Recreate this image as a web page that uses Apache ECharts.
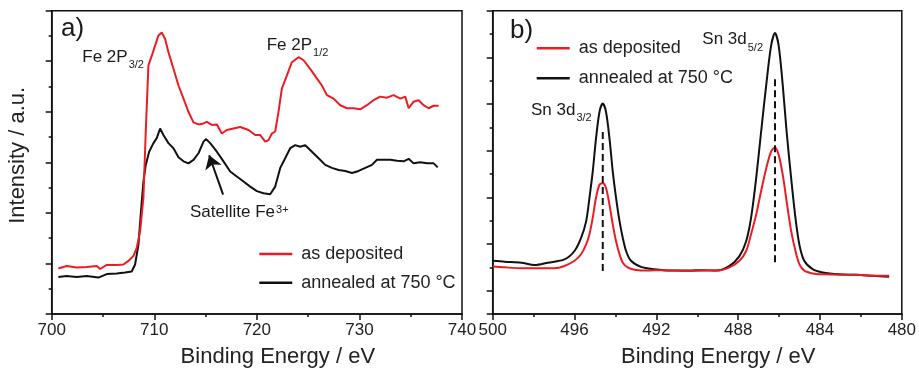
<!DOCTYPE html>
<html><head><meta charset="utf-8">
<script src="https://cdn.jsdelivr.net/npm/echarts@6/dist/echarts.min.js"></script>
<style>html,body{margin:0;padding:0;background:#fff}#c{width:919px;height:373px}</style>
</head><body><div id="c"></div>
<script>
// ---- Panel a) Fe 2p ----
const feEnergyAsDep = [700.65,701.46,702.44,703.41,704.39,704.72,705.37,706.34,706.99,707.48,
  707.97,708.29,708.62,708.94,709.17,709.43,709.76,710.08,710.41,710.73,
  711.06,711.38,711.87,712.36,712.85,713.33,713.82,714.31,714.80,715.12,
  715.61,716.10,716.59,717.07,717.72,718.37,719.19,719.84,720.33,720.81,
  721.14,721.46,721.79,722.11,722.44,722.93,723.41,724.07,724.55,725.20,
  725.85,726.34,726.83,727.48,728.13,728.78,729.43,730.08,730.73,731.38,
  732.03,732.68,733.33,733.98,734.47,734.80,735.28,735.77,736.26,736.75,
  737.24,737.72];
const feAsDep = [0.90,0.95,0.92,0.93,0.95,0.89,0.97,0.97,0.98,1.05,
  1.15,1.31,1.64,2.30,3.61,4.92,5.11,5.31,5.51,5.57,
  5.44,5.18,4.85,4.52,4.26,4.00,3.79,3.75,3.77,3.80,
  3.74,3.75,3.57,3.64,3.67,3.70,3.64,3.54,3.54,3.41,
  3.44,3.57,3.61,4.00,4.46,4.72,4.98,5.08,5.02,4.85,
  4.66,4.52,4.33,4.26,4.13,4.07,4.07,4.05,4.13,4.23,
  4.30,4.28,4.33,4.26,4.30,4.07,4.20,4.23,4.13,4.07,
  4.12,4.12];
const feEnergyAnn = [700.65,701.46,702.44,703.41,704.55,705.37,706.34,707.15,707.80,708.13,
  708.46,708.68,708.94,709.17,709.50,709.92,710.24,710.57,710.89,711.38,
  711.87,712.36,712.85,713.33,713.82,714.31,714.80,715.06,715.45,716.10,
  716.75,717.40,718.05,718.70,719.35,720.00,720.65,721.30,721.79,722.28,
  722.76,723.25,723.74,724.23,724.72,725.37,726.02,726.67,727.32,727.97,
  728.62,729.27,729.92,730.57,731.22,731.71,732.36,733.01,733.66,734.31,
  734.80,735.28,735.93,736.59,737.24,737.63];
const feAnn = [0.73,0.75,0.73,0.75,0.72,0.79,0.80,0.82,0.84,0.98,
  1.38,1.97,2.62,2.95,3.21,3.38,3.48,3.67,3.54,3.38,
  3.28,3.10,3.02,2.98,3.05,3.18,3.41,3.46,3.38,3.21,
  3.02,2.82,2.72,2.62,2.52,2.43,2.39,2.37,2.52,2.89,
  3.08,3.28,3.34,3.31,3.34,3.21,3.08,2.95,2.89,2.85,
  2.83,2.79,2.83,2.89,2.95,3.05,3.05,3.05,3.03,3.02,
  3.07,2.98,3.00,2.98,2.98,2.90];
const satelliteArrowFrom = [716.71, 2.36];
const satelliteArrowTo = [715.35, 3.14];

// ---- Panel b) Sn 3d ----
const snEnergyAsDep = [500.0,499.41,498.60,497.79,496.98,496.49,496.00,495.68,495.43,495.27,
  495.11,494.95,494.78,494.62,494.46,494.29,494.13,493.97,493.80,493.64,
  493.40,493.07,492.42,491.78,491.12,490.40,489.73,489.07,488.42,487.94,
  487.61,487.37,487.12,486.88,486.63,486.39,486.20,486.02,485.82,485.63,
  485.41,485.20,485.01,484.77,484.36,483.87,483.06,482.24,481.43,480.62];
const snAsDep = [0.52,0.50,0.48,0.48,0.48,0.53,0.64,0.78,0.99,1.21,
  1.56,1.99,2.27,2.30,2.20,1.84,1.42,1.06,0.78,0.60,
  0.50,0.45,0.43,0.44,0.43,0.42,0.43,0.43,0.50,0.64,
  0.85,1.21,1.63,2.13,2.62,2.98,3.07,2.91,2.48,1.91,
  1.28,0.85,0.57,0.43,0.37,0.35,0.34,0.34,0.32,0.32];
const snEnergyAnn = [500.0,499.41,498.60,497.95,497.30,496.49,496.00,495.68,495.43,495.27,
  495.11,494.95,494.78,494.62,494.46,494.29,494.13,493.97,493.80,493.64,
  493.48,493.24,492.75,492.10,491.29,490.40,489.73,489.07,488.42,487.94,
  487.61,487.37,487.12,486.88,486.63,486.39,486.20,486.02,485.82,485.63,
  485.41,485.20,485.01,484.77,484.36,483.87,483.06,482.24,481.43,480.62];
const snAnn = [0.64,0.62,0.60,0.55,0.60,0.67,0.85,1.13,1.49,1.99,
  2.55,3.26,3.83,4.01,3.83,3.26,2.55,1.99,1.49,1.13,
  0.85,0.64,0.51,0.46,0.43,0.43,0.44,0.43,0.53,0.74,
  1.06,1.56,2.41,3.40,4.40,5.25,5.52,5.25,4.40,3.40,
  2.41,1.56,0.99,0.64,0.46,0.39,0.35,0.34,0.32,0.30];
const snPeakPositions = [494.62, 486.20];
const snDashTop = [3.40, 4.53];
const snDashBottom = [0.35, 0.53];

const seriesNames = ['as deposited', 'annealed at 750 °C'];
const xAxisTitle = 'Binding Energy / eV';
const yAxisTitle = 'Intensity / a.u.';

const FONT = "'Liberation Sans', Arial, Helvetica, sans-serif";
const RED = '#ec1c24', BLACK = '#111111', TXT = '#1a1a1a';
const pairs = (xs, ys) => xs.map((x, i) => [x, ys[i]]);

const axisCommon = {
  axisLine: { show: true, onZero: false, lineStyle: { color: BLACK, width: 1.5 } },
  axisTick: { show: true, inside: false, length: 6, lineStyle: { color: BLACK, width: 1.5 } },
  minorTick: { show: true, splitNumber: 2, length: 3, lineStyle: { color: BLACK, width: 1.5 } },
  splitLine: { show: false },
  minorSplitLine: { show: false }
};
const xLabel = { show: true, color: '#222', fontFamily: FONT, fontSize: 17, margin: 8 };
const xName = { color: '#222', fontFamily: FONT, fontSize: 22, padding: [0, 0, 0, 42] };

const chart = echarts.init(document.getElementById('c'), null, { renderer: 'canvas' });

const lineBase = { type: 'line', showSymbol: false, symbol: 'none', animation: false, silent: true };

const option = {
  animation: false,
  backgroundColor: '#fff',
  grid: [
    { left: 51.7, top: 10.7, width: 410.3, height: 306.6, show: true, borderColor: BLACK, borderWidth: 1.5 },
    { left: 492.7, top: 10.7, width: 410, height: 306.6, show: true, borderColor: BLACK, borderWidth: 1.5 }
  ],
  xAxis: [
    Object.assign({}, axisCommon, { gridIndex: 0, type: 'value', min: 700, max: 740, interval: 10,
      axisLabel: xLabel, name: xAxisTitle, nameLocation: 'middle', nameGap: 32, nameTextStyle: xName }),
    Object.assign({}, axisCommon, { gridIndex: 1, type: 'value', min: 480, max: 500, interval: 4, inverse: true,
      axisLabel: xLabel, name: xAxisTitle, nameLocation: 'middle', nameGap: 32, nameTextStyle: xName })
  ],
  yAxis: [
    Object.assign({}, axisCommon, { gridIndex: 0, type: 'value', min: 0, max: 6, interval: 1,
      axisLabel: { show: false }, name: yAxisTitle, nameLocation: 'middle', nameGap: 23,
      nameTextStyle: { color: '#222', fontFamily: FONT, fontSize: 22, padding: [0, 0, 0, 14] } }),
    Object.assign({}, axisCommon, { gridIndex: 1, type: 'value', min: -0.5, max: 6, splitNumber: 6,
      axisLabel: { show: false } })
  ],
  legend: [
    { data: seriesNames, orient: 'vertical', left: 259.3, top: 245, padding: 0, itemGap: 10.7,
      icon: 'rect', itemWidth: 33, itemHeight: 2.5, selectedMode: false,
      textStyle: { fontFamily: FONT, fontSize: 18, color: '#222', padding: [0, 0, 0, 4] } },
    { data: seriesNames, orient: 'vertical', left: 536.7, top: 39.3, padding: 0, itemGap: 12,
      icon: 'rect', itemWidth: 33, itemHeight: 2.5, selectedMode: false,
      textStyle: { fontFamily: FONT, fontSize: 18, color: '#222', padding: [0, 0, 0, 4] } }
  ],
  series: [
    Object.assign({}, lineBase, { name: seriesNames[1], xAxisIndex: 0, yAxisIndex: 0, color: BLACK,
      lineStyle: { color: BLACK, width: 2 }, data: pairs(feEnergyAnn, feAnn),
      markLine: { silent: true, animation: false, symbol: ['none', 'arrow'], symbolSize: 13,
        label: { show: false }, lineStyle: { color: BLACK, width: 2, type: 'solid' },
        itemStyle: { color: BLACK },
        data: [[{ coord: satelliteArrowFrom }, { coord: satelliteArrowTo }]] } }),
    Object.assign({}, lineBase, { name: seriesNames[0], xAxisIndex: 0, yAxisIndex: 0, color: RED,
      lineStyle: { color: RED, width: 2 }, data: pairs(feEnergyAsDep, feAsDep) }),
    Object.assign({}, lineBase, { name: seriesNames[1], xAxisIndex: 1, yAxisIndex: 1, color: BLACK, smooth: 0.3,
      lineStyle: { color: BLACK, width: 2 }, data: pairs(snEnergyAnn, snAnn) }),
    Object.assign({}, lineBase, { name: seriesNames[0], xAxisIndex: 1, yAxisIndex: 1, color: RED, smooth: 0.3,
      lineStyle: { color: RED, width: 2 }, data: pairs(snEnergyAsDep, snAsDep) })
  ].concat(snPeakPositions.map((p, i) => Object.assign({}, lineBase, {
      name: 'peak' + i, xAxisIndex: 1, yAxisIndex: 1, color: BLACK,
      lineStyle: { color: BLACK, width: 2, type: [7, 4] },
      data: [[p, snDashTop[i]], [p, snDashBottom[i]]] }))),
  graphic: []
};

const mctx = document.createElement('canvas').getContext('2d');
function measure(s, size) { mctx.font = size + 'px ' + FONT; return mctx.measureText(s).width; }
function txt(x, y, s, size) {
  return { type: 'text', silent: true, x: x, y: y,
    style: { text: s, fill: TXT, font: size + 'px ' + FONT, textAlign: 'left', textVerticalAlign: 'middle' } };
}
// main text + sub/superscript placed right after measured main text
function scripted(x, y, main, script, dy) {
  const w = measure(main, 17);
  return [txt(x, y, main, 17), txt(x + w + 1, y + dy, script, 11)];
}
option.graphic = [
  txt(61, 29.2, 'a)', 26),
  txt(510, 31, 'b)', 26)
].concat(
  scripted(82.3, 57.5, 'Fe 2P', '3/2', 7.5),
  scripted(266.7, 45.5, 'Fe 2P', '1/2', 7.8),
  scripted(190, 212.5, 'Satellite Fe', '3+', -2.8),
  scripted(702.3, 39.5, 'Sn 3d', '5/2', 8),
  scripted(531, 110, 'Sn 3d', '3/2', 8)
);

chart.setOption(option);
</script></body></html>
